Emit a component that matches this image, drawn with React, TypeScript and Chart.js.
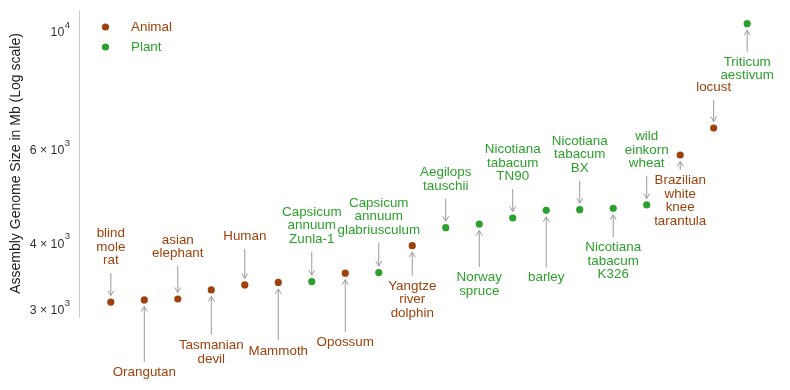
import React, { useEffect, useRef } from "react";
import { Chart, registerables } from "chart.js";

Chart.register(...registerables);

// ---- data ----
const names: string[] = [
  "blind\nmole\nrat",
  "Orangutan",
  "asian\nelephant",
  "Tasmanian\ndevil",
  "Human",
  "Mammoth",
  "Capsicum\nannuum\nZunla-1",
  "Opossum",
  "Capsicum\nannuum\nglabriusculum",
  "Yangtze\nriver\ndolphin",
  "Aegilops\ntauschii",
  "Norway\nspruce",
  "Nicotiana\ntabacum\nTN90",
  "barley",
  "Nicotiana\ntabacum\nBX",
  "Nicotiana\ntabacum\nK326",
  "wild\neinkorn\nwheat",
  "Brazilian\nwhite\nknee\ntarantula",
  "locust",
  "Triticum\naestivum",
];

const genomeSizes: number[] = [
  3105, 3133, 3146, 3272, 3344, 3380, 3392, 3518, 3527, 3963,
  4284, 4353, 4468, 4620, 4632, 4661, 4728, 5870, 6597, 10366,
];

const kinds: string[] = [
  "Animal", "Animal", "Animal", "Animal", "Animal", "Animal", "Plant", "Animal", "Plant", "Animal",
  "Plant", "Plant", "Plant", "Plant", "Plant", "Plant", "Plant", "Animal", "Animal", "Plant",
];

const seriesNames: string[] = ["Animal", "Plant"];

const yTicks: number[] = [3000, 4000, 6000, 10000];
const yTickLabels: string[] = ["3 × 10^3", "4 × 10^3", "6 × 10^3", "10^4"];

// ---- layout (annotation arrow lengths in px; negative = label above point) ----
const arrowOffsets: number[] = [
  -29, 62, -33, 45, -36, 58, -30, 59, -30, 30,
  -29, 43, -29, 57, -29, 29, -29, 15, -28, 28,
];

const COLORS: Record<string, string> = { Animal: "#9e410c", Plant: "#2ca02c" };
const FONT = "'Liberation Sans', Arial, sans-serif";

const annotationPlugin = {
  id: "annotations",
  afterDatasetsDraw(chart: any) {
    const ctx = chart.ctx as CanvasRenderingContext2D;
    const xs = chart.scales.x;
    const ys = chart.scales.y;
    ctx.save();
    ctx.font = `13.4px ${FONT}`;
    ctx.textAlign = "center";
    ctx.textBaseline = "middle";
    const lh = 13.5;
    names.forEach((name, i) => {
      const px = xs.getPixelForValue(i);
      const py = ys.getPixelForValue(genomeSizes[i]);
      const off = arrowOffsets[i];
      const s = off < 0 ? -1 : 1;
      const tailY = py + off;
      const tipY = py + s * 6.5;
      ctx.strokeStyle = "#9a9a9a";
      ctx.lineWidth = 1;
      ctx.beginPath();
      ctx.moveTo(px, tailY);
      ctx.lineTo(px, tipY);
      ctx.moveTo(px - 3, tipY + s * 5);
      ctx.lineTo(px, tipY);
      ctx.lineTo(px + 3, tipY + s * 5);
      ctx.stroke();
      const lines = name.split("\n");
      ctx.fillStyle = COLORS[kinds[i]];
      let firstY: number;
      if (s < 0) {
        const lastY = tailY - 12.5;
        firstY = lastY - (lines.length - 1) * lh;
      } else {
        firstY = tailY + 10.5;
      }
      lines.forEach((ln, k) => ctx.fillText(ln, px, firstY + k * lh));
    });
    // legend
    seriesNames.forEach((sn, k) => {
      const y = 27 + k * 20;
      ctx.fillStyle = COLORS[sn];
      ctx.beginPath();
      ctx.arc(105.5, y, 3.6, 0, Math.PI * 2);
      ctx.fill();
      ctx.textAlign = "left";
      ctx.fillText(sn, 131, y);
    });
    // y tick labels (mathtext-like superscripts)
    const right = ys.left + ys.width - 9;
    ctx.fillStyle = "#333333";
    ctx.textBaseline = "middle";
    yTicks.forEach((v, i) => {
      const y = ys.getPixelForValue(v);
      const [base, exp] = yTickLabels[i].split("^");
      ctx.font = `9.5px ${FONT}`;
      const ew = ctx.measureText(exp).width;
      ctx.textAlign = "right";
      ctx.fillText(exp, right, y - 7);
      ctx.font = `12.3px ${FONT}`;
      ctx.fillText(base, right - ew - 0.5, y + 1);
    });
    ctx.restore();
  },
};

export default function App() {
  const ref = useRef<HTMLCanvasElement | null>(null);
  useEffect(() => {
    if (!ref.current) return;
    const datasets = seriesNames.map((sn) => ({
      label: sn,
      data: genomeSizes
        .map((v, i) => ({ x: i, y: v, k: kinds[i] }))
        .filter((p) => p.k === sn)
        .map((p) => ({ x: p.x, y: p.y })),
      backgroundColor: COLORS[sn],
      borderColor: COLORS[sn],
      pointRadius: 3.6,
      pointBorderWidth: 0,
      showLine: false,
    }));
    const chart = new Chart(ref.current, {
      type: "scatter",
      data: { datasets },
      options: {
        animation: false,
        responsive: true,
        maintainAspectRatio: false,
        layout: { padding: { top: 10, bottom: 73, right: 11, left: 0 } },
        plugins: { legend: { display: false }, tooltip: { enabled: false } },
        scales: {
          x: { type: "linear", min: -0.95, max: 19.95, display: false },
          y: {
            type: "logarithmic",
            min: 2910,
            max: 11000,
            grid: { display: false, drawTicks: false },
            border: { display: true, color: "#cccccc", width: 1 },
            afterBuildTicks: (scale: any) => {
              scale.ticks = yTicks.map((v) => ({ value: v }));
            },
            afterFit: (scale: any) => {
              scale.width = 79;
              scale.paddingTop = 0;
              scale.paddingBottom = 0;
            },
            ticks: {
              display: false,
            },
            title: {
              display: true,
              text: "Assembly Genome Size in Mb (Log scale)",
              color: "#222222",
              font: { family: FONT, size: 14 },
              padding: { top: 7.5, bottom: 0 },
            },
          },
        },
      },
      plugins: [annotationPlugin],
    });
    return () => chart.destroy();
  }, []);
  return (
    <div style={{ position: "fixed", left: 0, top: 0, width: 790, height: 390, background: "#fff" }}>
      <canvas ref={ref} />
    </div>
  );
}
